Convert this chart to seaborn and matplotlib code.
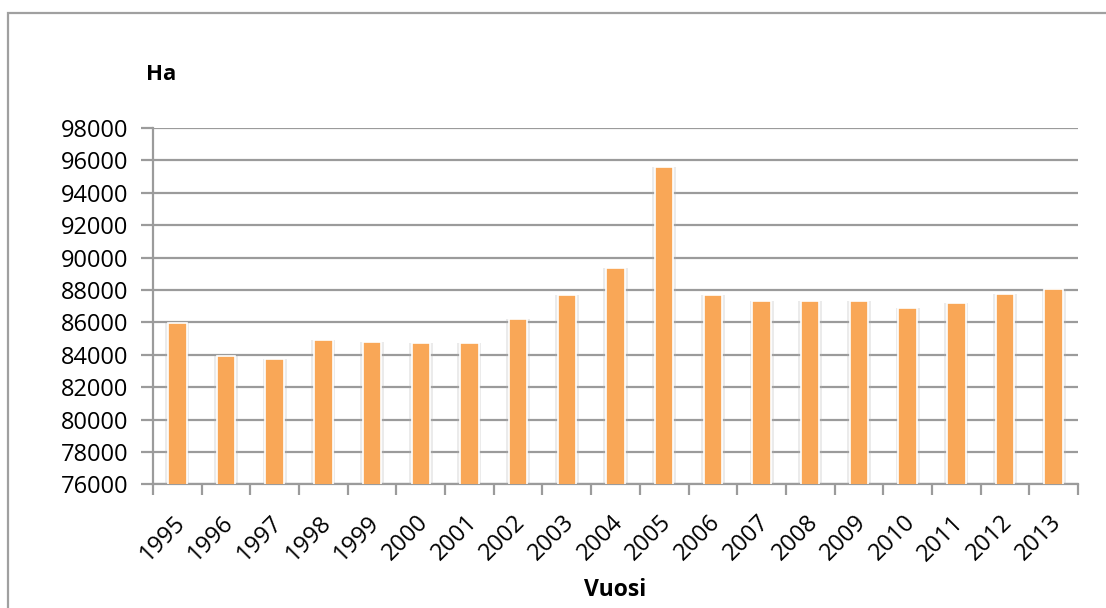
import matplotlib
matplotlib.use("Agg")
import matplotlib.pyplot as plt
import matplotlib.patheffects as pe
from matplotlib.patches import Rectangle
import matplotlib.transforms as mtransforms
import seaborn as sns
import pandas as pd

# Pinta-ala vuosittain (ha)
years = ["1995", "1996", "1997", "1998", "1999", "2000", "2001", "2002", "2003", "2004",
         "2005", "2006", "2007", "2008", "2009", "2010", "2011", "2012", "2013"]
hectares = [85960, 83900, 83720, 84930, 84800, 84740, 84700, 86190, 87700, 89350,
            95570, 87690, 87330, 87300, 87300, 86900, 87210, 87770, 88060]
y_ticks = list(range(76000, 98001, 2000))

sns.set_theme(style="white")
plt.rcParams["font.family"] = ["Open Sans", "DejaVu Sans"]
plt.rcParams["text.color"] = "black"

df = pd.DataFrame({"Vuosi": years, "Ha": hectares})

fig = plt.figure(figsize=(11.06, 6.08), dpi=100)
ax = fig.add_axes([153 / 1106, 1 - 484.3 / 608, (1078 - 153) / 1106, (484.3 - 128) / 608])

grid_col = "#9b9b9b"
bar_col = "#F9A757"

sns.barplot(data=df, x="Vuosi", y="Ha", color=bar_col, saturation=1, width=0.38,
            edgecolor="white", linewidth=1.2, ax=ax, zorder=3)
for patch in ax.patches:
    patch.set_path_effects([
        pe.SimplePatchShadow(offset=(2, 0), shadow_rgbFace="#b0b0b0", alpha=0.25),
        pe.SimplePatchShadow(offset=(-2, 0), shadow_rgbFace="#b0b0b0", alpha=0.25),
        pe.Normal(),
    ])

ax.set_ylim(76000, 98000)
ax.set_xlim(-0.5, len(years) - 0.5)
ax.set_yticks(y_ticks)
ax.set_yticklabels([str(v) for v in y_ticks])
ax.yaxis.grid(True, color=grid_col, linewidth=1.6, zorder=0)
ax.set_axisbelow(True)

for side in ["top", "right"]:
    ax.spines[side].set_visible(False)
for side in ["left", "bottom"]:
    ax.spines[side].set_color(grid_col)
    ax.spines[side].set_linewidth(1.6)

# Tick marks on the category boundaries
ax.set_xticks([i - 0.5 for i in range(len(years) + 1)], minor=True)
ax.tick_params(axis="x", which="minor", length=8, width=1.6, color=grid_col, bottom=True)
ax.tick_params(axis="x", which="major", length=0, labelsize=17, pad=25, labelcolor="black")
ax.tick_params(axis="y", which="major", length=9, width=1.6, color=grid_col, left=True,
               labelsize=17, pad=9, labelcolor="black")
ax.set_xticks(range(len(years)))
ax.set_xticklabels(years, rotation=45, ha="right", va="center", rotation_mode="anchor")
offset = mtransforms.ScaledTranslation(4 / 100, 0, fig.dpi_scale_trans)
for lbl in ax.get_xticklabels():
    lbl.set_transform(lbl.get_transform() + offset)

ax.set_xlabel("")
ax.set_ylabel("")
fig.text(161 / 1106, 1 - 75 / 608, "Ha", fontsize=16, fontweight="bold", ha="center", va="center",
         color="black")
fig.text(615 / 1106, 1 - 590 / 608, "Vuosi", fontsize=16.5, fontweight="bold", ha="center",
         va="center", color="black")

# Chart-area frame
fig.add_artist(Rectangle((8 / 1106, -0.1), 1.2, 1 - 13 / 608 + 0.1, transform=fig.transFigure,
                         fill=False, edgecolor="#a0a0a0", linewidth=1.6))

fig.savefig("out.png", dpi=100, facecolor="white")
